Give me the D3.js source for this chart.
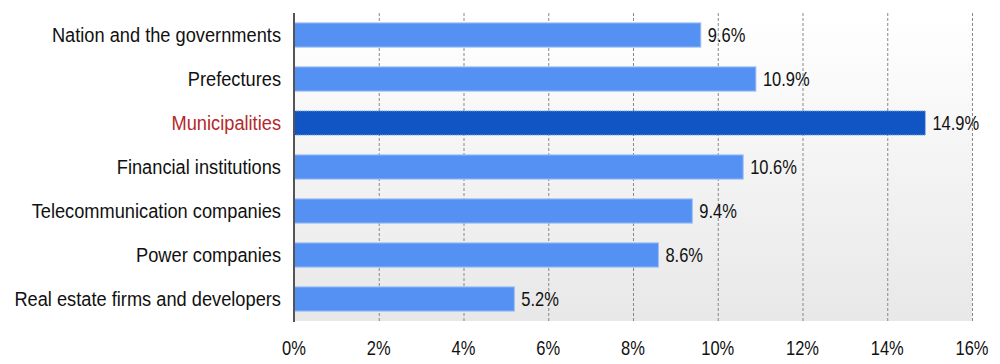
<!DOCTYPE html>
<html><head><meta charset="utf-8">
<script src="https://cdn.jsdelivr.net/npm/d3@7/dist/d3.min.js"></script>
<style>body{margin:0;background:#fff}svg{display:block}text{font-family:"Liberation Sans",Arial,sans-serif}</style>
</head><body><svg id="c" width="1000" height="364"></svg>
<script>
const categories = ["Nation and the governments","Prefectures","Municipalities","Financial institutions","Telecommunication companies","Power companies","Real estate firms and developers"];
const values = [9.6,10.9,14.9,10.6,9.4,8.6,5.2];
const highlight = "Municipalities";
const ticks = [0,2,4,6,8,10,12,14,16];

const svg = d3.select("#c");
const m = {l:294, r:972, t:13, b:321};
const x = d3.scaleLinear().domain([0,16]).range([m.l,m.r]);
const y = d3.scaleBand().domain(categories).range([m.t,m.b]).paddingInner(0.45).paddingOuter(0.225);
const FS = 20, catSX = 0.913, numSX = 0.825;

const defs = svg.append("defs");
const g = defs.append("linearGradient").attr("id","bg").attr("x1",0).attr("y1",0).attr("x2",0).attr("y2",1);
g.append("stop").attr("offset","0%").attr("stop-color","#ffffff");
g.append("stop").attr("offset","100%").attr("stop-color","#e8e8e8");
svg.append("rect").attr("x",m.l).attr("y",m.t).attr("width",m.r-m.l).attr("height",m.b-m.t).attr("fill","url(#bg)");

svg.append("g").selectAll("line").data(ticks.slice(1)).join("line")
  .attr("x1",d=>x(d)+0.5).attr("x2",d=>x(d)+0.5).attr("y1",m.t).attr("y2",m.b)
  .attr("stroke","#888").attr("stroke-width",1).attr("stroke-dasharray","3,2");

svg.append("g").selectAll("rect").data(categories).join("rect")
  .attr("x",x(0)).attr("y",d=>y(d)).attr("height",y.bandwidth())
  .attr("width",(d,i)=>x(values[i])-x(0))
  .attr("fill",d=>d===highlight?"#1155c4":"#5591f2")
  .attr("stroke",d=>d===highlight?"#8fb4ee":"#9dbff7")
  .attr("stroke-width",1)
  .attr("stroke-dasharray",d=>d===highlight?"1,1":null);

svg.append("g").selectAll("text").data(categories).join("text")
  .attr("transform",(d,i)=>`translate(${x(values[i])+7},${y(d)+y.bandwidth()/2}) scale(${numSX},1)`)
  .attr("dy","0.35em")
  .attr("font-size",FS).attr("fill","#111").text((d,i)=>values[i].toFixed(1)+"%");

svg.append("g").selectAll("text").data(categories).join("text")
  .attr("transform",d=>`translate(281,${y(d)+y.bandwidth()/2}) scale(${catSX},1)`)
  .attr("dy","0.35em").attr("text-anchor","end")
  .attr("font-size",FS).attr("fill",d=>d===highlight?"#b5282a":"#111").text(d=>d);

svg.append("g").selectAll("text").data(ticks).join("text")
  .attr("transform",d=>`translate(${x(d)},348) scale(${numSX},1)`)
  .attr("dy","0.35em").attr("text-anchor","middle")
  .attr("font-size",FS).attr("fill","#111").text(d=>d+"%");

svg.append("line").attr("x1",m.l).attr("x2",m.l).attr("y1",m.t).attr("y2",m.b+1)
  .attr("stroke","#555").attr("stroke-width",2);
</script></body></html>
